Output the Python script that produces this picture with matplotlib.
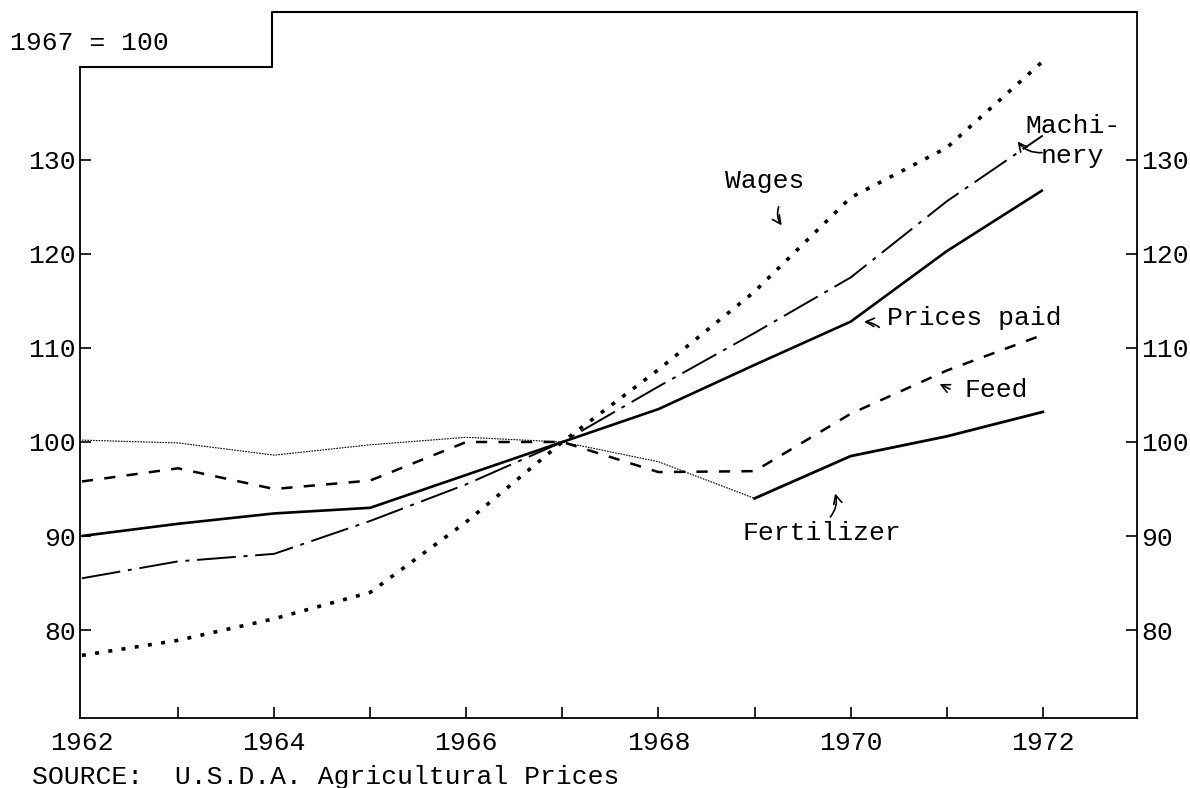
import matplotlib
matplotlib.use("Agg")
import matplotlib.pyplot as plt
from matplotlib.lines import Line2D

plt.rcParams['font.family'] = ['Liberation Mono', 'DejaVu Sans Mono']

# index values, 1967 = 100
years = [1962, 1963, 1964, 1965, 1966, 1967, 1968, 1969, 1970, 1971, 1972]
prices_paid = [90.0, 91.3, 92.4, 93.0, 96.5, 100.0, 103.5, 108.2, 112.8, 120.3, 126.8]
wages = [77.3, 78.9, 81.2, 84.0, 91.5, 100.0, 107.7, 116.0, 126.0, 131.3, 140.5]
machinery = [85.5, 87.3, 88.1, 91.6, 95.5, 100.0, 105.9, 111.6, 117.5, 125.6, 132.6]
feed = [95.8, 97.2, 95.0, 95.9, 100.0, 100.0, 96.8, 96.9, 103.0, 107.6, 111.4]
fertilizer = [100.2, 99.9, 98.6, 99.7, 100.5, 100.0, 97.9, 94.0, 98.5, 100.6, 103.2]

y_ticks = [80, 90, 100, 110, 120, 130]
x_labels = [1962, 1964, 1966, 1968, 1970, 1972]

fs = 19

fig = plt.figure(figsize=(11.9, 7.88), dpi=100)
ax = fig.add_axes([80/1190, 70/788, 1057/1190, 706/788])

ax.plot(years, prices_paid, color='black', lw=1.9, solid_capstyle='butt')
ax.plot(years, wages, color='black', lw=2.6, linestyle=(0, (1.1, 2.6)))
ax.plot(years, machinery, color='black', lw=1.4, linestyle=(0, (20, 4, 2, 4)))
ax.plot(years, feed, color='black', lw=1.8, linestyle=(0, (4.5, 4.5)))
# fertilizer: fine dotted up to 1969, heavier line after
k = years.index(1969)
ax.plot(years[:k+1], fertilizer[:k+1], color='black', lw=0.8, linestyle=(0, (1.5, 1)))
ax.plot(years[k:], fertilizer[k:], color='black', lw=2.0)

ax.set_xlim(1961.98, 1972.98)
ax.set_ylim(70.64, 145.74)

ax.set_xticks(years[1:])
ax.set_xticklabels([str(y) if y in x_labels else '' for y in years[1:]])
ax.set_xticks(x_labels[:1], minor=True)
ax.set_xticklabels(['1962'], minor=True)
ax.tick_params(axis='x', which='both', direction='in', length=8, width=1.2,
               labelsize=fs, pad=9)
ax.tick_params(axis='x', which='minor', length=0)

ax.set_yticks(y_ticks)
ax.set_yticklabels([str(v) for v in y_ticks])
ax.tick_params(axis='y', direction='in', length=8, width=1.2, labelsize=fs,
               left=True, right=True, labelleft=True, labelright=True, pad=3)

ax.spines['top'].set_visible(False)
ax.spines['left'].set_bounds(70.64, 139.9)
for s in ['left', 'right', 'bottom']:
    ax.spines[s].set_linewidth(1.3)

# stepped top border
sx = (272 - 80) / 1057
sy = (718 - 67) / 706
ax.add_line(Line2D([0, sx, sx, 1], [sy, sy, 1, 1], transform=ax.transAxes,
                   color='black', lw=1.5, clip_on=False))

arrow = dict(arrowstyle='->,head_length=0.6,head_width=0.3', color='black', lw=1.2)

ax.text(1969.11, 127.8, 'Wages', fontsize=fs, ha='center', va='center')
ax.annotate('', xy=(1969.30, 122.8), xytext=(1969.26, 125.3),
            arrowprops=dict(arrow, connectionstyle='arc3,rad=0.3'))

ax.text(1972.31, 132.0, 'Machi-\nnery', fontsize=fs, ha='center', va='center',
        linespacing=1.3)
ax.annotate('', xy=(1971.72, 132.2), xytext=(1972.02, 130.8),
            arrowprops=dict(arrow, connectionstyle='arc3,rad=-0.3'))

ax.text(1971.29, 113.2, 'Prices paid', fontsize=fs, ha='center', va='center')
ax.annotate('', xy=(1970.11, 112.8), xytext=(1970.32, 112.0),
            arrowprops=dict(arrow, connectionstyle='arc3,rad=0.2'))

ax.text(1971.52, 105.5, 'Feed', fontsize=fs, ha='center', va='center')
ax.annotate('', xy=(1970.90, 106.3), xytext=(1971.06, 105.5),
            arrowprops=dict(arrow, connectionstyle='arc3,rad=0.0'))

ax.text(1969.70, 90.3, 'Fertilizer', fontsize=fs, ha='center', va='center')
ax.annotate('', xy=(1969.83, 94.8), xytext=(1969.77, 91.8),
            arrowprops=dict(arrow, connectionstyle='arc3,rad=0.3'))

fig.text(10/1190, (788 - 43)/788, '1967 = 100', fontsize=fs, ha='left', va='center')
fig.text(32/1190, (788 - 777)/788, 'SOURCE:  U.S.D.A. Agricultural Prices',
         fontsize=fs, ha='left', va='center')

fig.savefig('out.png', dpi=100)
